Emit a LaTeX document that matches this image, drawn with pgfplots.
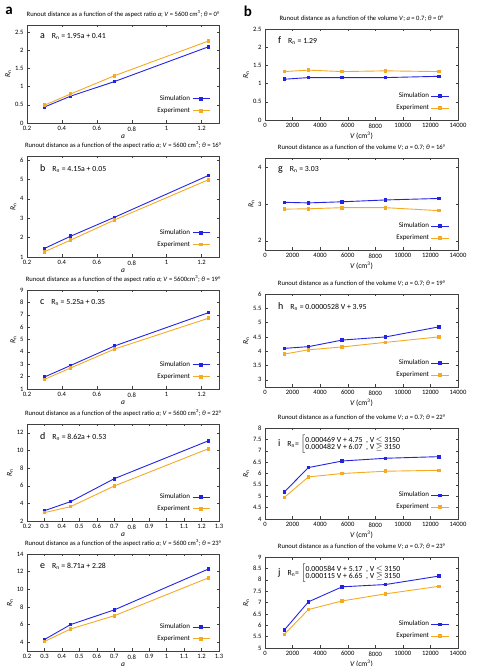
\documentclass[border=0pt]{standalone}
\usepackage{pgfplots}
\pgfplotsset{compat=1.18}
\usepackage{fontspec}
\setmainfont{Carlito}
\definecolor{simb}{RGB}{35,35,225}
\definecolor{expo}{RGB}{245,170,35}
\pgfplotsset{
  panel/.style={scale only axis,
    axis line style={line width=0.5pt, black!75},
    tick style={black!75, line width=0.4pt}, major tick length=2.5pt,
    tick label style={font=\fontsize{6.6}{7}\selectfont},
    /pgf/number format/assume math mode=true,
    /pgf/number format/1000 sep={},
    scaled x ticks=false,
    title style={font=\fontsize{6.6}{7}\selectfont, yshift=-2pt},
    xlabel style={font=\fontsize{7.5}{8}\selectfont, yshift=3pt},
    ylabel style={font=\fontsize{7.5}{8}\selectfont, yshift=-3pt},
    ylabel={\itshape R\textsubscript{\upshape n}},
    legend style={at={(0.97,0.05)}, anchor=south east, draw=none, fill=none,
      font=\fontsize{7}{8}\selectfont, row sep=1.5pt},
    legend plot pos=right, legend cell align=right,
  },
  leftp/.style={panel, width=192pt, xmin=0.2, xmax=1.3, xlabel={\itshape a}},
  leftA/.style={leftp, xtick={0.2,0.4,0.6,0.8,1,1.2}},
  leftB/.style={leftp, xtick={0.2,0.3,0.4,0.5,0.6,0.7,0.8,0.9,1,1.1,1.2,1.3}},
  rightp/.style={panel, width=193pt, height=91pt, xmin=0, xmax=14000,
    xtick={0,2000,4000,6000,8000,10000,12000,14000},
    xlabel={\itshape V\upshape\ (cm\textsuperscript{3})}},
  sim/.style={color=simb, mark=square*, mark size=1.3pt, line width=0.9pt},
  expe/.style={color=expo, mark=square*, mark size=1.3pt, line width=0.9pt},
}
\newcommand{\ann}[2]{{\fontsize{10}{10}\selectfont #1}\hspace{7pt}{\fontsize{7.8}{9}\selectfont #2}}
\newcommand{\Rn}{R\textsubscript{n}}
\begin{document}
\begin{tikzpicture}
\useasboundingbox (0pt,0pt) rectangle (478pt,666pt);
\node[font=\fontsize{15}{15}\bfseries\selectfont] at (9pt,655pt) {a};
\node[font=\fontsize{15}{15}\bfseries\selectfont] at (248pt,655pt) {b};

% ---- left column ----
\begin{axis}[leftA, at={(27pt,543pt)}, anchor=south west, height=98pt, ymin=0, ymax=2.7,
  ytick={0,0.5,1,1.5,2,2.5},
  title={Runout distance as a function of the aspect ratio \textit{a}; \textit{V} = 5600 cm\textsuperscript{3}; \textit{θ} = 0°}]
\addplot[sim] coordinates {(0.3,0.44) (0.45,0.74) (0.7,1.14) (1.24,2.10)};
\addplot[expe] coordinates {(0.3,0.49) (0.45,0.80) (0.7,1.30) (1.24,2.26)};
\legend{Simulation,Experiment}
\node[anchor=west] at (rel axis cs:0.05,0.88) {\ann{a}{\Rn\ = 1.95a + 0.41}};
\end{axis}

\begin{axis}[leftA, at={(27pt,409pt)}, anchor=south west, height=101pt, ymin=1, ymax=6.2,
  ytick={1,2,3,4,5,6},
  title={Runout distance as a function of the aspect ratio \textit{a}; \textit{V} = 5600 cm\textsuperscript{3}; \textit{θ} = 16°}]
\addplot[sim] coordinates {(0.3,1.44) (0.45,2.07) (0.7,3.04) (1.24,5.20)};
\addplot[expe] coordinates {(0.3,1.27) (0.45,1.87) (0.7,2.90) (1.24,4.98)};
\legend{Simulation,Experiment}
\node[anchor=west] at (rel axis cs:0.05,0.88) {\ann{b}{\Rn\ = 4.15a + 0.05}};
\end{axis}

\begin{axis}[leftA, at={(27pt,277pt)}, anchor=south west, height=99pt, ymin=1, ymax=9,
  ytick={1,2,3,4,5,6,7,8,9},
  title={Runout distance as a function of the aspect ratio \textit{a}; \textit{V} = 5600cm\textsuperscript{3}; \textit{θ} = 19°}]
\addplot[sim] coordinates {(0.3,1.97) (0.45,2.90) (0.7,4.47) (1.24,7.17)};
\addplot[expe] coordinates {(0.3,1.78) (0.45,2.70) (0.7,4.22) (1.24,6.72)};
\legend{Simulation,Experiment}
\node[anchor=west] at (rel axis cs:0.05,0.87) {\ann{c}{\Rn\ = 5.25a + 0.35}};
\end{axis}

\begin{axis}[leftB, at={(27pt,145pt)}, anchor=south west, height=97pt, ymin=2, ymax=13,
  ytick={2,4,6,8,10,12},
  title={Runout distance as a function of the aspect ratio \textit{a}; \textit{V} = 5600 cm\textsuperscript{3}; \textit{θ} = 22°}]
\addplot[sim] coordinates {(0.3,3.17) (0.45,4.20) (0.7,6.80) (1.24,11.10)};
\addplot[expe] coordinates {(0.3,2.95) (0.45,3.63) (0.7,5.97) (1.24,10.20)};
\legend{Simulation,Experiment}
\node[anchor=west] at (rel axis cs:0.05,0.87) {\ann{d}{\Rn\ = 8.62a + 0.53}};
\end{axis}

\begin{axis}[leftB, at={(27pt,15pt)}, anchor=south west, height=97pt, ymin=3, ymax=14,
  ytick={4,6,8,10,12,14},
  title={Runout distance as a function of the aspect ratio \textit{a}; \textit{V} = 5600 cm\textsuperscript{3}; \textit{θ} = 23°}]
\addplot[sim] coordinates {(0.3,4.30) (0.45,6.00) (0.7,7.66) (1.24,12.30)};
\addplot[expe] coordinates {(0.3,4.08) (0.45,5.50) (0.7,7.00) (1.24,11.30)};
\legend{Simulation,Experiment}
\node[anchor=west] at (rel axis cs:0.05,0.87) {\ann{e}{\Rn\ = 8.71a + 2.28}};
\end{axis}

% ---- right column ----
\begin{axis}[rightp, at={(265pt,546pt)}, anchor=south west, ymin=0, ymax=2.5,
  ytick={0,0.5,1,1.5,2,2.5},
  title={Runout distance as a function of the volume \textit{V}; \textit{a} = 0.7; \textit{θ} = 0°}]
\addplot[sim] coordinates {(1400,1.12) (3150,1.165) (5600,1.165) (8750,1.165) (12600,1.20)};
\addplot[expe] coordinates {(1400,1.33) (3150,1.37) (5600,1.33) (8750,1.35) (12600,1.33)};
\legend{Simulation,Experiment}
\node[anchor=west] at (rel axis cs:0.05,0.87) {\ann{f}{\Rn\ = 1.29}};
\end{axis}

\begin{axis}[rightp, at={(265pt,416pt)}, anchor=south west, height=92pt, ymin=1.75, ymax=4.25,
  ytick={2,3,4},
  title={Runout distance as a function of the volume \textit{V}; \textit{a} = 0.7; \textit{θ} = 16°}]
\addplot[sim] coordinates {(1400,3.045) (3150,3.03) (5600,3.06) (8750,3.11) (12600,3.15)};
\addplot[expe] coordinates {(1400,2.86) (3150,2.87) (5600,2.90) (8750,2.90) (12600,2.82)};
\legend{Simulation,Experiment}
\node[anchor=west] at (rel axis cs:0.05,0.87) {\ann{g}{\Rn\ = 3.03}};
\end{axis}

\begin{axis}[rightp, at={(265pt,279pt)}, anchor=south west, height=93pt, ymin=2.75, ymax=6,
  ytick={3,3.5,4,4.5,5,5.5,6},
  title={Runout distance as a function of the volume \textit{V}; \textit{a} = 0.7; \textit{θ} = 19°}]
\addplot[sim] coordinates {(1400,4.10) (3150,4.16) (5600,4.39) (8750,4.50) (12600,4.85)};
\addplot[expe] coordinates {(1400,3.90) (3150,4.05) (5600,4.15) (8750,4.31) (12600,4.50)};
\legend{Simulation,Experiment}
\node[anchor=west] at (rel axis cs:0.05,0.87) {\ann{h}{\Rn\ = 0.0000528 V + 3.95}};
\end{axis}

\begin{axis}[rightp, at={(265pt,147pt)}, anchor=south west, ymin=4, ymax=8,
  ytick={4,4.5,5,5.5,6,6.5,7,7.5,8},
  title={Runout distance as a function of the volume \textit{V}; \textit{a} = 0.7; \textit{θ} = 22°}]
\addplot[sim] coordinates {(1400,5.19) (3150,6.26) (5600,6.55) (8750,6.67) (12600,6.74)};
\addplot[expe] coordinates {(1400,4.95) (3150,5.85) (5600,6.00) (8750,6.10) (12600,6.14)};
\legend{Simulation,Experiment}
\node[anchor=west] at (rel axis cs:0.05,0.82) {\ann{i}{\Rn= $\left[\mbox{\begin{tabular}{@{}l@{}}0.000469 V + 4.75\ \ , V $\leq$ 3150\\[-2pt]0.000482 V + 6.07\ \ , V $\geq$ 3150\end{tabular}}\right.$}};
\end{axis}

\begin{axis}[rightp, at={(265pt,18pt)}, anchor=south west, ymin=5, ymax=9,
  ytick={5,5.5,6,6.5,7,7.5,8,8.5,9},
  title={Runout distance as a function of the volume \textit{V}; \textit{a} = 0.7; \textit{θ} = 23°}]
\addplot[sim] coordinates {(1400,5.79) (3150,7.03) (5600,7.69) (8750,7.79) (12600,8.16)};
\addplot[expe] coordinates {(1400,5.60) (3150,6.69) (5600,7.07) (8750,7.38) (12600,7.71)};
\legend{Simulation,Experiment}
\node[anchor=west] at (rel axis cs:0.05,0.82) {\ann{j}{\Rn= $\left[\mbox{\begin{tabular}{@{}l@{}}0.000584 V + 5.17\ \ , V $\leq$ 3150\\[-2pt]0.000115 V + 6.65\ \ , V $\geq$ 3150\end{tabular}}\right.$}};
\end{axis}
\end{tikzpicture}
\end{document}
